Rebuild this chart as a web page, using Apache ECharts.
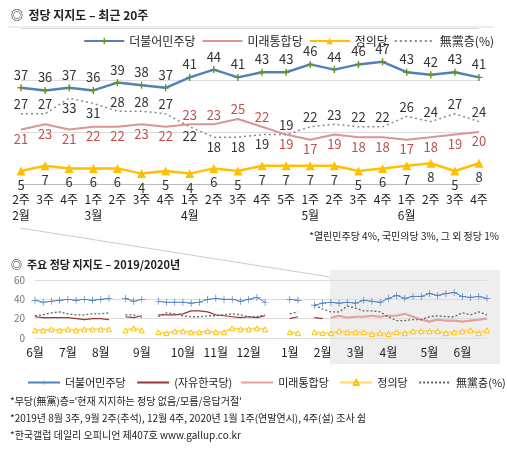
<!DOCTYPE html><html><head><meta charset="utf-8">
<script src="https://cdn.jsdelivr.net/npm/echarts@6/dist/echarts.min.js"></script>
<style>html,body{margin:0;padding:0;background:#fff}#c{width:507px;height:452px}</style></head><body><div id="c"></div>
<script>
// ---- top chart (recent 20 weeks)
const weekLabels=['2주\n2월','3주','4주','1주\n3월','2주','3주','4주','1주\n4월','2주','3주','4주','5주','1주\n5월','2주','3주','4주','1주\n6월','2주','3주','4주'];
const minjoo=[37,36,37,36,39,38,37,41,44,41,43,43,46,44,46,47,43,42,43,41];
const tonghap=[21,23,21,22,22,23,22,23,23,25,22,19,17,19,18,18,17,18,19,20];
const jeongui=[5,7,6,6,6,4,5,4,6,5,7,7,7,7,5,6,7,8,5,8];
const mudang=[27,27,33,31,28,28,27,22,18,18,19,19,22,23,22,22,26,24,27,24];
// ---- bottom chart (2019/2020, weekly; null = no survey)
const minjooLong=[39,37,38,39,40,39,40,39,40,41,null,41,38,40,null,38,37,37,37,36,37,40,41,40,40,38,40,42,37,null,null,40,39,null,34,36];
const jayuLong=[22,21,21,21,21,20,19,20,20,19,null,22,21,23,null,24,24,24,25,28,28,27,24,23,22,21,22,21,23,null,null,20,22,null,21,20];
const jeonguiLong=[8,8,9,8,9,8,9,9,9,9,null,8,10,8,null,6,5,7,7,6,6,7,6,6,10,9,9,10,9,null,null,6,5,null,6,5];
const mudangLong=[23,24,26,27,25,24,24,25,25,26,null,24,24,21,null,22,26,25,23,22,22,23,23,24,25,24,22,22,24,null,null,25,27,null,34,30];
const monthLabels={0:'6월',4:'7월',8:'8월',13:'9월',18:'10월',22:'11월',26:'12월',31:'1월',35:'2월',39:'3월',43:'4월',48:'5월',52:'6월'};

const nPre=minjooLong.length;
const pad=a=>Array(nPre).fill(null).concat(a);
const blueL=minjooLong.concat(minjoo);
const jayuL=jayuLong.concat(Array(20).fill(null));
const tongL=pad(tonghap);
const jeongL=jeonguiLong.concat(jeongui);
const mudL=mudangLong.concat(mudang);
const cats=blueL.map((_,i)=>String(i));

const redUp=[7,8,9,10];
const grayDown=[2,3,7,8,9,10];
const F='"Noto Sans CJK KR","Noto Sans",sans-serif';
const lbl=(pos,color)=>({show:true,position:pos,color:color,fontSize:13,fontFamily:F,distance:3});
const plus='path://M-1,-5H1V-1H5V1H1V5H-1V1H-5V-1H-1Z';
const thinPlus='path://M-0.5,-5H0.5V-0.5H5V0.5H0.5V5H-0.5V0.5H-5V-0.5H-0.5Z';
const hid={itemStyle:{opacity:0}};

const chart=echarts.init(document.getElementById('c'));
chart.setOption({
 animation:false,
 textStyle:{fontFamily:F},
 title:[
  {text:'◎  정당 지지도 – 최근 20주',left:6,top:4,textStyle:{fontSize:12,fontWeight:'bold',color:'#222',fontFamily:F}},
  {text:'◎  주요 정당 지지도 – 2019/2020년',left:6,top:254,textStyle:{fontSize:11,fontWeight:'bold',color:'#222',fontFamily:F}}
 ],
 graphic:[
  {type:'line',shape:{x1:20,y1:228,x2:330,y2:277},style:{stroke:'#ccc',lineWidth:1},z:0},
  {type:'rect',shape:{x:330,y:270,width:170,height:94},style:{fill:'#eeeeee'},z:-1},
  {type:'line',shape:{x1:8,y1:27,x2:493,y2:27},style:{stroke:'#ddd',lineWidth:1}},
  {type:'text',right:8,top:231,style:{text:'*열린민주당 4%, 국민의당 3%, 그 외 정당 1%',fontSize:10,fill:'#222',fontFamily:F}},
  {type:'text',left:10,top:396,style:{text:'*무당(無黨)층=\'현재 지지하는 정당 없음/모름/응답거절\'',fontSize:10,fill:'#222',fontFamily:F}},
  {type:'text',left:10,top:413,style:{text:'*2019년 8월 3주, 9월 2주(추석), 12월 4주, 2020년 1월 1주(연말연시), 4주(설) 조사 쉼',fontSize:10,fill:'#222',fontFamily:F}},
  {type:'text',left:10,top:430,style:{text:'*한국갤럽 데일리 오피니언 제407호 www.gallup.co.kr',fontSize:10,fill:'#222',fontFamily:F}}
 ],
 legend:[
  {top:30,right:8,itemGap:6,itemWidth:40,itemHeight:8,textStyle:{fontSize:12,color:'#222'},
   data:['더불어민주당',Object.assign({name:'미래통합당'},hid),'정의당',Object.assign({name:'無黨층(%)'},hid)]},
  {top:372,left:22,right:0,width:490,itemGap:8,itemWidth:32,itemHeight:6,textStyle:{fontSize:11,color:'#222'},
   data:['더불어민주당 ',Object.assign({name:'(자유한국당)'},hid),Object.assign({name:'미래통합당 '},hid),'정의당 ',Object.assign({name:'無黨층(%) '},hid)]}
 ],
 grid:[
  {left:21,right:28,top:28,height:156},
  {left:35,right:20,top:280,height:58}
 ],
 xAxis:[
  {type:'category',gridIndex:0,data:weekLabels,boundaryGap:false,axisLine:{lineStyle:{color:'#bbb'}},axisTick:{show:false},
   axisLabel:{color:'#222',fontSize:12,lineHeight:16,interval:0,margin:7}},
  {type:'category',gridIndex:1,data:cats,boundaryGap:false,axisLine:{show:false},axisTick:{show:false},
   axisLabel:{color:'#222',fontSize:12,interval:0,margin:8,formatter:(v,i)=>monthLabels[i]||''}}
 ],
 yAxis:[
  {type:'value',gridIndex:0,min:0,max:60,interval:20,axisLabel:{show:false},axisLine:{show:false},axisTick:{show:false},splitLine:{lineStyle:{color:'#ddd'}}},
  {type:'value',gridIndex:1,min:0,max:60,interval:20,axisLabel:{color:'#777',fontSize:10,margin:10},axisLine:{show:false},axisTick:{show:false},splitLine:{lineStyle:{color:'#ddd'}}}
 ],
 series:[
  {name:'더불어민주당',type:'line',xAxisIndex:0,yAxisIndex:0,data:minjoo,symbol:plus,symbolSize:7,
   itemStyle:{color:'#6b8e23'},lineStyle:{color:'#4f81bd',width:2.5},label:lbl('top','#333')},
  {name:'미래통합당',type:'line',xAxisIndex:0,yAxisIndex:0,data:tonghap.map((v,i)=>({value:v,label:{position:redUp.includes(i)?'top':'bottom'}})),
   symbol:'circle',symbolSize:0.1,itemStyle:{color:'#d99694'},lineStyle:{color:'#d99694',width:2},label:lbl('bottom','#c0504d')},
  {name:'정의당',type:'line',xAxisIndex:0,yAxisIndex:0,data:jeongui,symbol:'triangle',symbolSize:9,
   itemStyle:{color:'#ffc000'},lineStyle:{color:'#ffc000',width:2.5},label:lbl('bottom','#333')},
  {name:'無黨층(%)',type:'line',xAxisIndex:0,yAxisIndex:0,data:mudang.map((v,i)=>({value:v,label:{position:grayDown.includes(i)?'bottom':'top'}})),
   symbol:'circle',symbolSize:0.1,itemStyle:{color:'#888'},lineStyle:{color:'#888',width:1.5,type:[2,3]},label:lbl('top','#333')},

  {name:'더불어민주당 ',type:'line',xAxisIndex:1,yAxisIndex:1,data:blueL,symbol:thinPlus,symbolSize:7,
   itemStyle:{color:'#4f81bd'},lineStyle:{color:'#4f81bd',width:1}},
  {name:'(자유한국당)',type:'line',xAxisIndex:1,yAxisIndex:1,data:jayuL,symbol:'none',itemStyle:{color:'#953735'},lineStyle:{color:'#953735',width:1.2}},
  {name:'미래통합당 ',type:'line',xAxisIndex:1,yAxisIndex:1,data:tongL,symbol:'none',itemStyle:{color:'#e6a0a0'},lineStyle:{color:'#e6a0a0',width:2.2}},
  {name:'정의당 ',type:'line',xAxisIndex:1,yAxisIndex:1,data:jeongL,symbol:'triangle',symbolSize:5,itemStyle:{color:'#fff',borderColor:'#ffc000',borderWidth:1},lineStyle:{color:'#ffd966',width:2}},
  {name:'無黨층(%) ',type:'line',xAxisIndex:1,yAxisIndex:1,data:mudL,symbol:'none',itemStyle:{color:'#666'},lineStyle:{color:'#666',width:1.3,type:[2,2]}}
 ]
});
</script></body></html>
